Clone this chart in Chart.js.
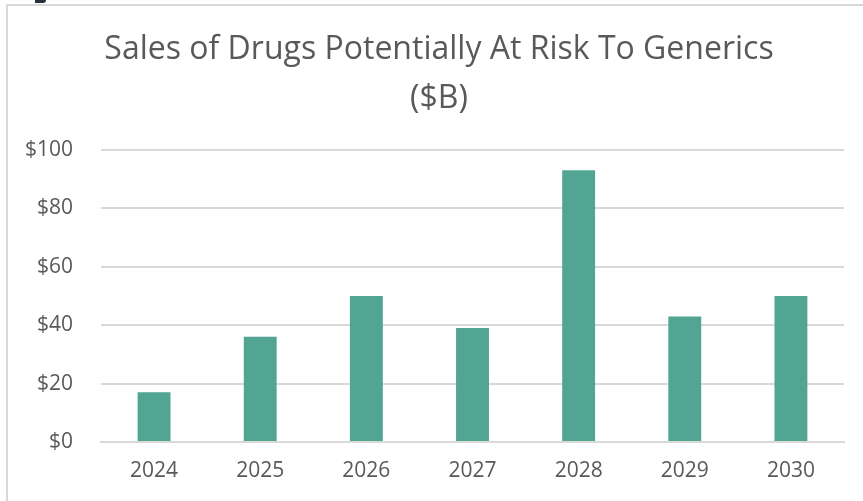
<!DOCTYPE html>
<html>
<head>
<meta charset="utf-8">
<script src="https://cdn.jsdelivr.net/npm/chart.js@4"></script>
<style>
    html, body { margin: 0; padding: 0; background: #fff; }
    #wrap { position: relative; width: 863px; height: 501px; }
    #chartCanvas { position: absolute; left: 0; top: 0; }
    #corner { position: absolute; left: 35px; top: 0; width: 11px; height: 3px; background: #262f3b; border-radius: 0 0 4px 0; }
</style>
</head>
<body>
<div id="wrap">
    <canvas id="chartCanvas" width="863" height="501"></canvas>
    <div id="corner"></div>
</div>
<script>
// ================= DATA =================
const years = ["2024", "2025", "2026", "2027", "2028", "2029", "2030"];
const salesAtRisk = [17, 36, 50, 39, 93, 43, 50];
const yTicks = [0, 20, 40, 60, 80, 100];

const TEXT_COLOR = "#595959";
const GRID_COLOR = "#d9d9d9";
const BAR_COLOR = "#52a593";

// frame lines along the left and top edge
const framePlugin = {
    id: "frame",
    beforeDraw(chart) {
        const ctx = chart.ctx;
        ctx.save();
        ctx.strokeStyle = GRID_COLOR;
        ctx.lineWidth = 2;
        ctx.beginPath();
        ctx.moveTo(7, chart.height);
        ctx.lineTo(7, 5);
        ctx.lineTo(chart.width, 5);
        ctx.stroke();
        ctx.restore();
    }
};

// nudge the title box a little to the right
const titleShift = {
    id: "titleShift",
    afterLayout(chart) {
        if (chart.titleBlock) {
            chart.titleBlock.left += 8;
            chart.titleBlock.right += 8;
        }
    }
};

new Chart(document.getElementById("chartCanvas"), {
    type: "bar",
    data: {
        labels: years,
        datasets: [{
            label: "Sales ($B)",
            data: salesAtRisk,
            backgroundColor: BAR_COLOR,
            barPercentage: 0.31,
            categoryPercentage: 1.0
        }]
    },
    options: {
        responsive: false,
        animation: false,
        layout: {
            padding: { left: 18, right: 19, top: 25, bottom: 0 }
        },
        plugins: {
            legend: { display: false },
            tooltip: { enabled: false },
            title: {
                display: true,
                text: ["Sales of Drugs Potentially At Risk To Generics", "($B)"],
                color: TEXT_COLOR,
                font: { family: "'Open Sans', sans-serif", size: 32, weight: "normal", lineHeight: 1.53 },
                padding: { top: 0, bottom: 27 }
            }
        },
        scales: {
            x: {
                grid: { display: false, drawTicks: false },
                border: { color: GRID_COLOR, width: 2 },
                ticks: {
                    color: TEXT_COLOR,
                    font: { family: "'Open Sans', sans-serif", size: 21, lineHeight: 1.0 },
                    padding: 19
                }
            },
            y: {
                min: 0,
                max: 100,
                afterBuildTicks(axis) {
                    axis.ticks = yTicks.map(v => ({ value: v }));
                },
                afterFit(axis) {
                    axis.width = 83;
                },
                grid: { color: GRID_COLOR, lineWidth: 2, drawTicks: false },
                border: { display: false },
                ticks: {
                    color: TEXT_COLOR,
                    font: { family: "'Open Sans', sans-serif", size: 21 },
                    padding: 28,
                    callback: v => "$" + v
                }
            }
        }
    },
    plugins: [framePlugin, titleShift]
});
</script>
</body>
</html>
